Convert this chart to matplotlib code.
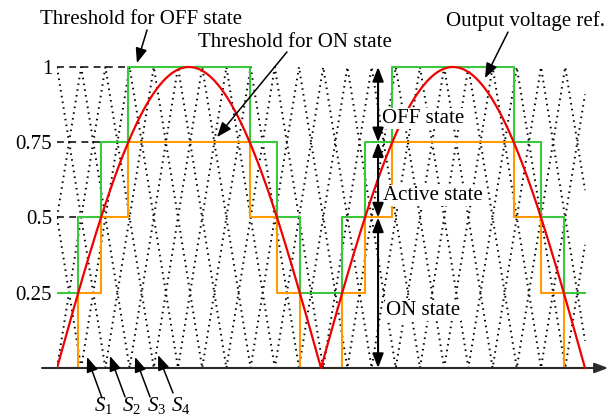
import numpy as np
import matplotlib
matplotlib.use("Agg")  # headless
import matplotlib.pyplot as plt

plt.rcParams["font.family"] = ["Liberation Serif", "DejaVu Serif"]
plt.rcParams["mathtext.fontset"] = "custom"
plt.rcParams["mathtext.rm"] = "Liberation Serif"
plt.rcParams["mathtext.it"] = "Liberation Serif:italic"

# output voltage reference: rectified sine over one period (angle in degrees)
ref_start, ref_end = 0, 360
ref_half_period = 180

# phase-shifted triangular carriers S1..S4 (period and first minimum, degrees)
carrier_period = 66.0
carrier_min_at = [16.5, 33.0, 49.5, 66.0]
carrier_labels = ["$S_1$", "$S_2$", "$S_3$", "$S_4$"]

# staircase thresholds: edges (degrees) and levels between them
step_edges = [0, 14.5, 30, 48.6, 131.4, 150, 165.5, 194.5, 210, 228.6,
              311.4, 330, 345.5, 360]
off_levels = [0.25, 0.5, 0.75, 1, 0.75, 0.5, 0.25, 0.5, 0.75, 1, 0.75, 0.5, 0.25]
on_levels = [0, 0.25, 0.5, 0.75, 0.5, 0.25, 0, 0.25, 0.5, 0.75, 0.5, 0.25, 0]

y_ticks = [0.25, 0.5, 0.75, 1]
y_ticklabels = ["0.25", "0.5", "0.75", "1"]
state_bounds = [1, 0.75, 0.5, 0]   # OFF / Active / ON bands
state_names = ["OFF state", "Active state", "ON state"]

FS = 15
GREEN = "#3cc83c"
ORANGE = "#ff9a00"
RED = "#f00000"

fig = plt.figure(figsize=(6.14, 4.16), dpi=100)
ax = fig.add_axes([57 / 614, 0, 1 - 57 / 614, 1])
ax.set_xlim(0, 379.77)
ax.set_ylim(-0.1595, 1.2226)
for s in ax.spines.values():
    s.set_visible(False)
ax.set_xticks([])
ax.set_yticks(y_ticks)
ax.set_yticklabels(y_ticklabels, fontsize=FS)
ax.tick_params(axis="y", length=0, pad=3.5)

x = np.linspace(ref_start, ref_end, 2881)

# carriers (dotted)
half = carrier_period / 2
for m in carrier_min_at:
    j = np.arange(-4, 30)
    t = m + half * j
    v = np.where(j % 2 == 0, 0.0, 1.0)
    ax.plot(x, np.interp(x, t, v), color="black", lw=1.4,
            linestyle=(0, (0.8, 2.2)), zorder=1)

# dashed guide lines at the levels, up to where the OFF threshold reaches them
for lev in [0.5, 0.75, 1]:
    end = step_edges[off_levels.index(lev)]
    ax.plot([0, end], [lev, lev], color="black", lw=1.1,
            linestyle=(0, (4.5, 3.5)), zorder=1.5)

# staircases
ax.plot(step_edges, off_levels + [off_levels[-1]], drawstyle="steps-post",
        color=GREEN, lw=1.5, zorder=2)
ax.plot(step_edges, on_levels + [on_levels[-1]], drawstyle="steps-post",
        color=ORANGE, lw=1.5, zorder=3)

# x axis with arrow
ax.annotate("", xy=(375.8, 0), xytext=(-10.2, 0),
            arrowprops=dict(arrowstyle="-|>,head_length=0.8,head_width=0.3",
                            mutation_scale=10, lw=1.5, color="#2a2a2a",
                            shrinkA=0, shrinkB=0),
            annotation_clip=False, zorder=3.5)

# reference
ax.plot(x, np.abs(np.sin(np.pi * x / ref_half_period)), color=RED, lw=1.6,
        zorder=4)

thin = dict(arrowstyle="-|>,head_length=0.9,head_width=0.35",
            mutation_scale=10, lw=1.1, color="black", shrinkA=0, shrinkB=0)
dbl = dict(arrowstyle="<|-|>,head_length=0.85,head_width=0.33",
           mutation_scale=10, lw=1.5, color="black", shrinkA=0, shrinkB=0)

# state bands
xs = 218.9
for k in range(3):
    ax.annotate("", xy=(xs, state_bounds[k + 1]), xytext=(xs, state_bounds[k]),
                arrowprops=dbl, zorder=6)
box = dict(facecolor="white", edgecolor="none", pad=0.5)
ax.text(221.6, 0.814, state_names[0], fontsize=FS, va="baseline", bbox=box, zorder=5)
ax.text(222.3, 0.558, state_names[1], fontsize=FS, va="baseline", bbox=box, zorder=5)
ax.text(224.3, 0.176, state_names[2], fontsize=FS, va="baseline", bbox=box, zorder=5)

# threshold / reference labels
ax.text(57.3, 1.143, "Threshold for OFF state", fontsize=FS, ha="center",
        va="baseline")
ax.annotate("", xy=(54.5, 1.013), xytext=(61.4, 1.123), arrowprops=thin,
            zorder=6)
ax.text(162.3, 1.066, "Threshold for ON state", fontsize=FS, ha="center",
        va="baseline")
ax.annotate("", xy=(109.1, 0.767), xytext=(156.8, 1.050), arrowprops=thin,
            zorder=6)
ax.text(319.1, 1.136, "Output voltage ref.", fontsize=FS, ha="center",
        va="baseline")
ax.annotate("", xy=(291.8, 0.963), xytext=(307.5, 1.116), arrowprops=thin,
            zorder=6)

# carrier labels
s_text_x = [31.4, 51.1, 68.2, 84.5]
s_tail = [(30.7, -0.0997), (46.4, -0.096), (63.4, -0.096), (79.1, -0.083)]
s_head = [(20.5, 0.0365), (36.1, 0.040), (53.2, 0.0365), (68.9, 0.043)]
for lbl, tx, tail, head in zip(carrier_labels, s_text_x, s_tail, s_head):
    ax.text(tx, -0.123, lbl, fontsize=FS, ha="center", va="center")
    ax.annotate("", xy=head, xytext=tail, arrowprops=thin, zorder=6)

fig.savefig("out.png", dpi=100)
